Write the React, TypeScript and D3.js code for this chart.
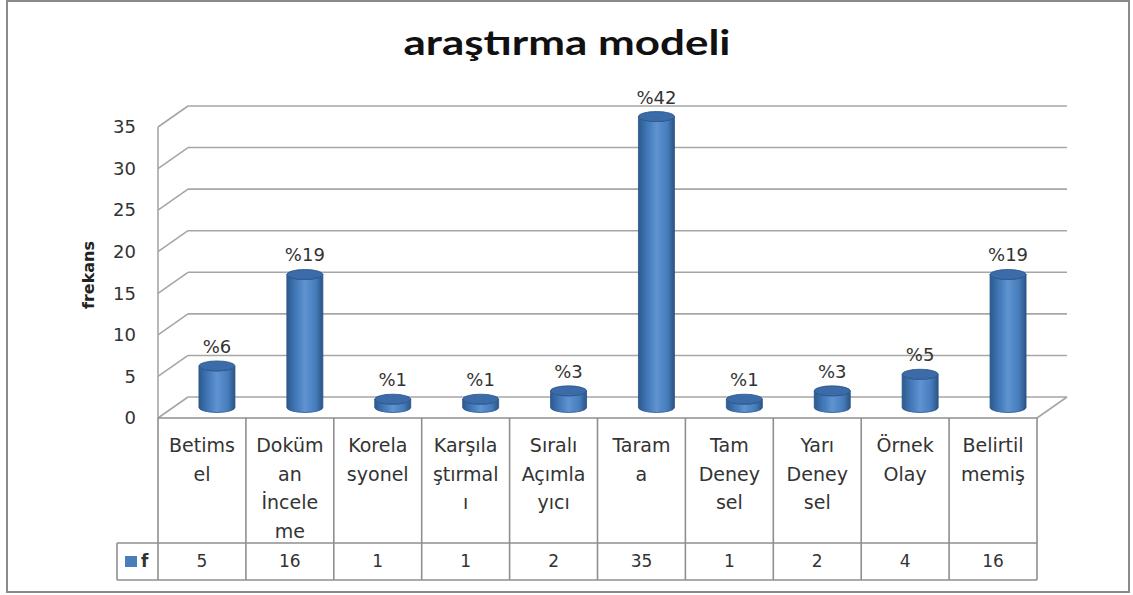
import React from 'react';
import * as d3 from 'd3';

// araştırma modeli - frekans
const categories = ['Betimsel', 'Doküman İnceleme', 'Korelasyonel', 'Karşılaştırmalı', 'Sıralı Açımlayıcı', 'Tarama', 'Tam Deneysel', 'Yarı Deneysel', 'Örnek Olay', 'Belirtilmemiş'];
// how the labels wrap inside the data table cells
const categoryLines = [
  ['Betims', 'el'],
  ['Doküm', 'an', 'İncele', 'me'],
  ['Korela', 'syonel'],
  ['Karşıla', 'ştırmal', 'ı'],
  ['Sıralı', 'Açımla', 'yıcı'],
  ['Taram', 'a'],
  ['Tam', 'Deney', 'sel'],
  ['Yarı', 'Deney', 'sel'],
  ['Örnek', 'Olay'],
  ['Belirtil', 'memiş'],
];
const values = [5, 16, 1, 1, 2, 35, 1, 2, 4, 16];
const percentLabels = ['%6', '%19', '%1', '%1', '%3', '%42', '%1', '%3', '%5', '%19'];
const yTicks = [0, 5, 10, 15, 20, 25, 30, 35];

const W = 1133, H = 595;
const left = 158, right = 1037;
const floorY = 418, topY = 127;
const depthX = 30, depthY = -21;
const gridColor = '#a6a6a6';
const tableColor = '#8f8f8f';
const txt = '#333';

// side of the cylinder: straight sides, rounded bottom, open top (the top ellipse is drawn on it)
function cylinder(cx, yTop, yBot, rx, ry) {
  return `M${cx - rx},${yTop} L${cx - rx},${yBot} A${rx},${ry} 0 0 0 ${cx + rx},${yBot} L${cx + rx},${yTop} A${rx},${ry} 0 0 1 ${cx - rx},${yTop} Z`;
}

export default function App() {
  const x = d3.scaleBand().domain(categories).range([left, right]).padding(0);
  const y = d3.scaleLinear().domain([0, 35]).range([floorY, topY]);
  const bw = x.bandwidth();
  const rx = 18, ry = 5;
  const font = '"DejaVu Sans", Verdana, sans-serif';

  return (
    <svg width={W} height={H} style={{ position: 'absolute', left: 0, top: 0, background: '#fff' }}>
      <defs>
        <linearGradient id="cyl" x1="0" x2="1" y1="0" y2="0">
          <stop offset="0" stopColor="#2c5a8f" />
          <stop offset="0.25" stopColor="#4278b8" />
          <stop offset="0.5" stopColor="#5f93d2" />
          <stop offset="0.8" stopColor="#477dbd" />
          <stop offset="1" stopColor="#2a5486" />
        </linearGradient>
      </defs>
      <rect x={7} y={1} width={1122} height={591} fill="#fff" stroke="#8a8a8a" strokeWidth={2} />

      <text x={567} y={55} textAnchor="middle" fontFamily="Lato, 'Open Sans', sans-serif" fontWeight="bold" fontSize={34} fill="#111" textLength={327} lengthAdjust="spacingAndGlyphs">araştırma modeli</text>

      {/* walls and gridlines */}
      <g stroke={gridColor} strokeWidth={1.6} fill="none">
        {yTicks.map(t => (
          <g key={t}>
            <line x1={left} y1={y(t)} x2={left + depthX} y2={y(t) + depthY} />
            <line x1={left + depthX} y1={y(t) + depthY} x2={right + depthX} y2={y(t) + depthY} />
          </g>
        ))}
        <line x1={left} y1={y(0)} x2={left} y2={y(35)} />
        <line x1={right} y1={y(0)} x2={right + depthX} y2={y(0) + depthY} />
      </g>

      {yTicks.map(t => (
        <text key={t} x={136} y={y(t)} dy="0.35em" textAnchor="end" fontFamily={font} fontSize={18} fill={txt}>{t}</text>
      ))}

      <text transform={`translate(94,275) rotate(-90)`} textAnchor="middle" fontFamily={font} fontWeight="bold" fontSize={16} fill="#222">frekans</text>

      {/* bars */}
      {categories.map((c, i) => {
        const cx = x(c) + bw / 2 + depthX / 2;
        const yb = y(0) + depthY / 2;
        const yt = y(values[i]) + depthY / 2;
        return (
          <g key={c}>
            <path d={cylinder(cx, yt, yb, rx, ry)} fill="url(#cyl)" stroke="#2a5385" strokeWidth={0.8} />
            <ellipse cx={cx} cy={yt} rx={rx} ry={ry} fill="#3b6ba8" stroke="#2a5385" strokeWidth={0.8} />
            <text x={cx} y={yt - 13} textAnchor="middle" fontFamily={font} fontSize={18} fill={txt}>{percentLabels[i]}</text>
          </g>
        );
      })}

      {/* data table */}
      <g stroke={tableColor} strokeWidth={1.6} fill="none">
        <line x1={left} y1={floorY} x2={right} y2={floorY} />
        <line x1={117} y1={543} x2={right} y2={543} />
        <line x1={117} y1={580} x2={right} y2={580} />
        <line x1={117} y1={543} x2={117} y2={580} />
        {categories.map(c => (
          <line key={c} x1={x(c)} y1={floorY} x2={x(c)} y2={580} />
        ))}
        <line x1={right} y1={floorY} x2={right} y2={580} />
      </g>
      {categories.map((c, i) => (
        <g key={c}>
          {categoryLines[i].map((l, j) => (
            <text key={j} x={x(c) + bw / 2} y={452 + j * 28.5} textAnchor="middle" fontFamily={font} fontSize={19} fill={txt}>{l}</text>
          ))}
          <text x={x(c) + bw / 2} y={567} textAnchor="middle" fontFamily={font} fontSize={17} fill={txt}>{values[i]}</text>
        </g>
      ))}
      <rect x={125} y={556} width={12} height={11} fill="#4a7ebb" />
      <text x={141} y={567} fontFamily={font} fontWeight="bold" fontSize={17} fill={txt}>f</text>
    </svg>
  );
}
